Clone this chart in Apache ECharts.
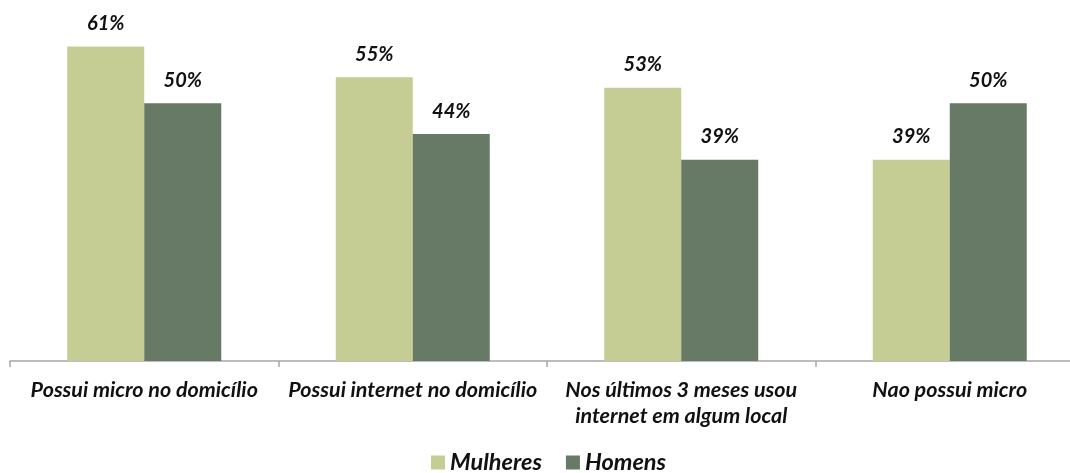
<!DOCTYPE html>
<html><head><meta charset="utf-8">
<script src="https://cdn.jsdelivr.net/npm/echarts@6/dist/echarts.min.js"></script>
<style>html,body{margin:0;padding:0;background:#fff;overflow:hidden}#c{width:1084px;height:473px}</style>
</head><body><div id="c"></div>
<script>
const categories = ['Possui micro no domicílio', 'Possui internet no domicílio', 'Nos últimos 3 meses usou\ninternet em algum local', 'Nao possui micro'];
const mulheres = [61, 55, 53, 39];
const homens = [50, 44, 39, 50];
const seriesNames = ['Mulheres', 'Homens'];

const chart = echarts.init(document.getElementById('c'));
const font = 'Lato';
const lbl = {show: true, position: 'top', distance: 13, formatter: '{c}%', fontFamily: font, fontStyle: 'italic', fontWeight: 'bold', fontSize: 20, color: '#111'};
chart.setOption({
  animation: false,
  legend: {left: 426, bottom: -6, itemWidth: 14, itemHeight: 14, itemGap: 24, icon: 'rect',
    textStyle: {fontFamily: font, fontStyle: 'italic', fontWeight: 'bold', fontSize: 23.5, color: '#111'}},
  grid: {left: 10, right: 0, top: -1, bottom: 112, containLabel: false},
  xAxis: {type: 'category', data: categories,
    axisLine: {lineStyle: {color: '#A6A6A6', width: 1.5}},
    axisTick: {show: true, length: 6, lineStyle: {color: '#A6A6A6', width: 1.5}},
    axisLabel: {margin: 16, interval: 0, lineHeight: 26, fontFamily: font, fontStyle: 'italic', fontWeight: 'bold', fontSize: 21.5, color: '#111'}},
  yAxis: {type: 'value', min: 0, max: 70, show: false, splitLine: {show: false}},
  series: [
    {name: seriesNames[0], type: 'bar', data: mulheres, barWidth: 77, barGap: '0%', itemStyle: {color: '#C5CD95'}, label: lbl},
    {name: seriesNames[1], type: 'bar', data: homens, barWidth: 77, barGap: '0%', itemStyle: {color: '#677A66'}, label: lbl}
  ]
});
</script></body></html>
